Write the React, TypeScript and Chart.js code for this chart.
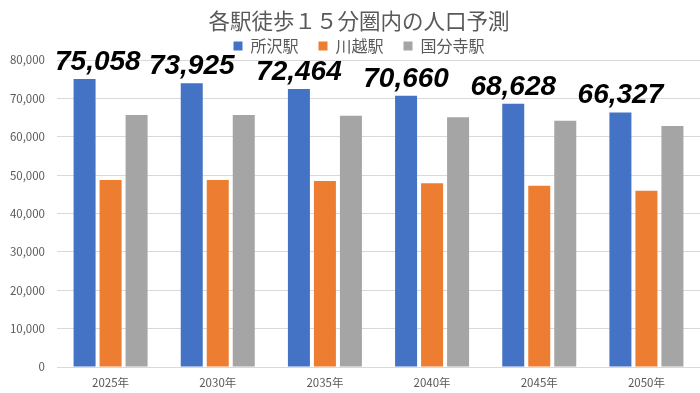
import React, { useEffect, useRef } from "react";
import { Chart, registerables } from "chart.js";

Chart.register(...registerables);

const TITLE = "各駅徒歩１５分圏内の人口予測";
const categories = ["2025年", "2030年", "2035年", "2040年", "2045年", "2050年"];
const seriesNames = ["所沢駅", "川越駅", "国分寺駅"];
const tokorozawa = [75058, 73925, 72464, 70660, 68628, 66327];
const kawagoe = [48700, 48700, 48500, 47900, 47200, 45900];
const kokubunji = [65700, 65700, 65500, 65100, 64200, 62800];
const colors = ["#4472C4", "#ED7D31", "#A5A5A5"];
const yMin = 0;
const yMax = 80000;
const yStep = 10000;

const TEXT = "#595959";
const CJK = "'Noto Sans CJK JP', 'Noto Sans', sans-serif";

const valueLabels = {
  id: "valueLabels",
  afterLayout(chart: any) {
    // let y tick labels extend into the left padding without being clipped
    if (chart.scales.y) chart.scales.y.left = 0;
  },
  afterDatasetsDraw(chart: any) {
    const meta = chart.getDatasetMeta(0);
    const ds = chart.data.datasets[0];
    const ctx = chart.ctx;
    const area = chart.chartArea;
    ctx.save();
    ctx.font = "italic bold 28px 'Liberation Sans', Arial, sans-serif";
    ctx.fillStyle = "#000000";
    ctx.textAlign = "center";
    ctx.textBaseline = "alphabetic";
    meta.data.forEach((bar: any, i: number) => {
      const text = Number(ds.data[i]).toLocaleString("en-US");
      const w = ctx.measureText(text).width;
      const x = Math.max(bar.x, area.left - 2 + w / 2);
      ctx.fillText(text, x, bar.y - 9);
    });
    ctx.restore();
  },
};

export default function App() {
  const ref = useRef<HTMLCanvasElement | null>(null);
  useEffect(() => {
    if (!ref.current) return;
    const data = [tokorozawa, kawagoe, kokubunji];
    const chart = new Chart(ref.current, {
      type: "bar",
      data: {
        labels: categories,
        datasets: seriesNames.map((name, i) => ({
          label: name,
          data: data[i],
          backgroundColor: colors[i],
          borderWidth: 0,
          categoryPercentage: 0.728,
          barPercentage: 0.846,
        })),
      },
      options: {
        responsive: false,
        animation: false,
        layout: { padding: { left: 18, right: 0, top: 0, bottom: 0 } },
        plugins: {
          title: {
            display: true,
            text: TITLE,
            color: TEXT,
            font: { family: CJK, size: 21.5, weight: "normal" },
            padding: { top: 8, bottom: -15.8 },
          },
          legend: {
            display: true,
            position: "top",
            maxHeight: 42,
            labels: {
              color: TEXT,
              font: { family: CJK, size: 16 },
              boxWidth: 9,
              boxHeight: 9,
              padding: 20,
            },
          },
          tooltip: { enabled: false },
        },
        scales: {
          x: {
            afterFit(scale: any) {
              scale.height = 26;
            },
            grid: { display: false, drawTicks: false },
            border: { display: true, color: "#D9D9D9", width: 1 },
            ticks: {
              color: TEXT,
              font: { family: CJK, size: 11.5 },
              padding: 9,
              maxRotation: 0,
            },
          },
          y: {
            min: yMin,
            max: yMax,
            afterFit(scale: any) {
              scale.width = 39;
            },
            grid: { color: "#D9D9D9", drawTicks: false },
            border: { display: false },
            ticks: {
              stepSize: yStep,
              color: TEXT,
              font: { family: CJK, size: 11.5 },
              padding: 12,
              callback: (v: any) => Number(v).toLocaleString("en-US"),
            },
          },
        },
      },
      plugins: [valueLabels],
    } as any);
    return () => chart.destroy();
  }, []);
  return (
    <div style={{ position: "fixed", left: 0, top: 0, width: 700, height: 393, background: "#fff" }}>
      <canvas ref={ref} width={700} height={393} style={{ width: 700, height: 393 }} />
    </div>
  );
}
